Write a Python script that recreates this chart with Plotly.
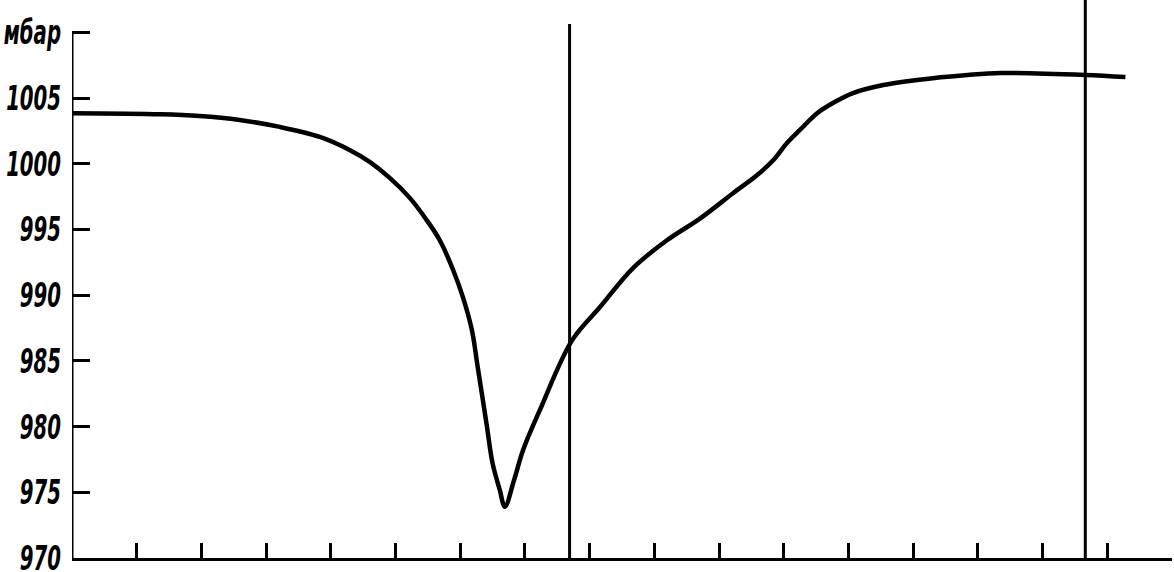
import plotly.graph_objects as go

# time axis in tick units (0..17), pressure in mbar
time_pts = [0.0, 1.36, 1.97, 2.59, 3.21, 3.83, 4.29, 4.60, 4.91, 5.22, 5.48, 5.69, 5.89,
            6.04, 6.18, 6.27, 6.41, 6.50, 6.61, 6.69, 6.83, 6.97, 7.23, 7.73,
            8.16, 8.67, 9.20, 9.71, 10.22, 10.59, 10.84, 11.05, 11.25, 11.52, 11.76,
            12.07, 12.54, 13.06, 13.84, 14.35, 15.66, 16.28]
pressure = [1003.85, 1003.77, 1003.64, 1003.34, 1002.81, 1002.05, 1001.06, 1000.15, 998.93,
            997.41, 995.73, 994.13, 991.92, 989.87, 987.35, 984.53, 980.1, 977.2,
            975.2, 973.9, 975.9, 978.2, 981.25, 986.58, 989.10, 992.07, 994.20,
            995.85, 997.78, 999.15, 1000.29, 1001.59, 1002.58, 1003.87, 1004.63,
            1005.39, 1006.0, 1006.38, 1006.76, 1006.91, 1006.76, 1006.6]

marker_x = [7.69, 15.66]
marker_top = [1010.65, 1012.6]

y_tickvals = [970, 975, 980, 985, 990, 995, 1000, 1005, 1010]
y_ticktext = ["970", "975", "980", "985", "990", "995", "1000", "1005", "мбар"]
x_tickvals = list(range(0, 18))

fig = go.Figure()

fig.add_trace(go.Scatter(x=time_pts, y=pressure, mode="lines",
                         line=dict(color="black", width=4.5, shape="spline", smoothing=1.0),
                         hoverinfo="skip", showlegend=False))

for mx, mt in zip(marker_x, marker_top):
    fig.add_trace(go.Scatter(x=[mx, mx], y=[970, mt], mode="lines",
                             line=dict(color="black", width=3), cliponaxis=False,
                             hoverinfo="skip", showlegend=False))

# y axis line from 970 to 1010
fig.add_trace(go.Scatter(x=[0, 0], y=[970, 1010], mode="lines",
                         line=dict(color="black", width=3), cliponaxis=False,
                         hoverinfo="skip", showlegend=False))

fig.update_layout(
    width=1174, height=572,
    margin=dict(l=72, r=2, t=0, b=14, autoexpand=False),
    paper_bgcolor="white", plot_bgcolor="white",
    font=dict(family="DejaVu Sans, sans-serif", color="black"),
    xaxis=dict(range=[0, 17], showgrid=False, zeroline=False, showline=True,
               linecolor="black", linewidth=3, ticks="inside", ticklen=15, tickwidth=3,
               tickcolor="black", tickvals=x_tickvals, showticklabels=False,
               automargin=False),
    yaxis=dict(range=[970, 1012.47], showgrid=False, zeroline=False, showline=False,
               ticks="inside", ticklen=18, tickwidth=3, tickcolor="black",
               tickvals=y_tickvals, ticktext=y_ticktext, ticklabelstandoff=10,
               ticklabeloverflow="allow", automargin=False,
               tickfont=dict(size=34, weight="bold", style="italic", color="black")),
)

post = """
document.body.style.margin = '0';
document.body.style.overflow = 'hidden';
var gd = document.getElementById('{plot_id}');
function squeeze(){
  gd.querySelectorAll('.ytick text').forEach(function(t){
    if (t.getAttribute('data-sq') === '1') return;
    var x = parseFloat(t.getAttribute('x')) || 0;
    var tr = t.getAttribute('transform') || '';
    t.setAttribute('transform', tr + ' translate(' + x + ',0) scale(0.58,1) translate(' + (-x) + ',0)');
    t.setAttribute('data-sq', '1');
  });
}
squeeze();
gd.on('plotly_afterplot', squeeze);
"""

fig.write_html("out.html", post_script=post, config={"displayModeBar": False})
